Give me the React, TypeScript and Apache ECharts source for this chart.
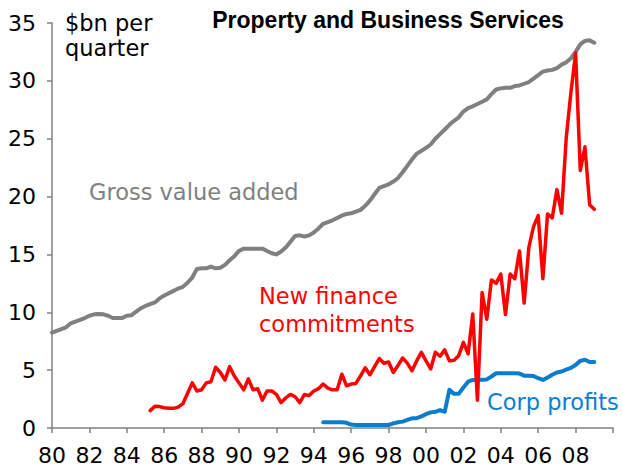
import React, { useEffect, useRef } from "react";
import * as echarts from "echarts";

// Quarterly series, $bn per quarter
const gvaStart = 1980; // Q1 1980
const gva = [
  8.25, 8.4, 8.55, 8.7,
  9.05, 9.2, 9.35, 9.5,
  9.7, 9.82, 9.85, 9.82,
  9.7, 9.5, 9.5, 9.5,
  9.7, 9.75, 10.05, 10.35,
  10.55, 10.7, 10.85, 11.2,
  11.45, 11.65, 11.85, 12.05,
  12.2, 12.55, 13.0, 13.75,
  13.8, 13.8, 13.95, 13.8,
  13.85, 14.1, 14.5, 14.85,
  15.3, 15.5, 15.5, 15.5,
  15.5, 15.5, 15.3, 15.1,
  15.0, 15.25, 15.6, 16.1,
  16.6, 16.65, 16.55, 16.65,
  16.9, 17.25, 17.65, 17.8,
  17.95, 18.15, 18.35, 18.5,
  18.55, 18.7, 18.85, 19.2,
  19.65, 20.2, 20.75, 20.9,
  21.05, 21.3, 21.6, 22.1,
  22.65, 23.2, 23.7, 23.95,
  24.2, 24.5, 25.0, 25.4,
  25.8, 26.2, 26.55, 26.85,
  27.35, 27.65, 27.8, 28.0,
  28.2, 28.4, 28.85, 29.25,
  29.35, 29.4, 29.4, 29.55,
  29.6, 29.75, 29.9, 30.2,
  30.5, 30.8, 30.9, 30.95,
  31.1, 31.4, 31.6, 31.95,
  32.5, 33.15, 33.45, 33.5,
  33.3,
];

const nfcStart = 1985.25; // Q2 1985
const nfc = [
  1.5, 1.87, 1.85,
  1.75, 1.7, 1.7, 1.8,
  2.1, 3.0, 3.9, 3.2,
  3.3, 3.9, 4.0, 5.25,
  4.8, 4.15, 5.3, 4.5,
  3.9, 3.3, 4.25, 3.3,
  3.4, 2.4, 3.2, 3.2,
  2.9, 2.2, 2.6, 2.9,
  2.7, 2.2, 2.9, 2.8,
  3.2, 3.4, 3.8, 3.45,
  3.3, 3.3, 4.65, 3.65,
  3.8, 3.85, 4.5, 5.2,
  4.6, 5.3, 6.0, 5.6,
  5.7, 4.8, 5.4, 6.05,
  5.6, 4.95, 5.8, 6.55,
  5.8, 5.1, 6.55, 6.2,
  6.75, 5.8, 5.85, 6.25,
  7.4, 6.4, 9.85, 2.4,
  11.7, 9.4, 12.8, 12.5,
  13.3, 9.8, 13.3, 12.9,
  15.3, 10.8, 15.6, 17.4,
  18.35, 12.9, 18.5, 18.15,
  20.6, 18.55, 25.1, 29.0,
  32.4, 22.25, 24.3, 19.3,
  18.9,
];

const cpStart = 1994.5; // Q3 1994
const cp = [
  0.5, 0.5,
  0.5, 0.5, 0.5, 0.45,
  0.3, 0.26, 0.26, 0.26,
  0.26, 0.26, 0.26, 0.26,
  0.26, 0.4, 0.5, 0.55,
  0.7, 0.84, 0.85, 1.0,
  1.2, 1.35, 1.4, 1.55,
  1.4, 3.3, 2.95, 2.95,
  3.5, 4.0, 4.15, 4.18,
  4.18, 4.2, 4.45, 4.73,
  4.73, 4.73, 4.73, 4.73,
  4.7, 4.52, 4.52, 4.5,
  4.3, 4.15, 4.35, 4.6,
  4.8, 4.88, 5.05, 5.2,
  5.45, 5.8, 5.9, 5.7,
  5.7,
];

const xMin = 1980;
const xMax = 2010;
const xStep = 2;
const yMin = 0;
const yMax = 35;
const yStep = 5;

const titleText = "Property and Business Services";
const unitLines = ["$bn per", "quarter"];
const gvaLabel = "Gross value added";
const nfcLines = ["New finance", "commitments"];
const cpLabel = "Corp profits";

const toPairs = (start: number, vals: number[]) =>
  vals.map((v, i) => [start + i * 0.25, v]);

const FONT = '"DejaVu Sans", Verdana, sans-serif';

export default function App() {
  const ref = useRef<HTMLDivElement>(null);

  useEffect(() => {
    document.body.style.margin = "0";
    if (!ref.current) return;
    const chart = echarts.init(ref.current, undefined, { renderer: "svg" });
    const labelText = (
      text: string,
      x: number,
      y: number,
      fill: string,
      size = 22.5,
      weight: string = "normal",
      family = FONT,
      align = "left"
    ) => ({
      type: "text",
      x,
      y,
      silent: true,
      style: {
        text,
        fill,
        fontSize: size,
        fontFamily: family,
        fontWeight: weight,
        textAlign: align,
        align,
        textVerticalAlign: "middle",
        verticalAlign: "middle",
      },
    });

    chart.setOption({
      animation: false,
      backgroundColor: "#ffffff",
      grid: { left: 52, right: 10, top: 23, bottom: 44, containLabel: false },
      xAxis: {
        type: "value",
        min: xMin,
        max: xMax,
        interval: xStep,
        axisLine: { show: true, lineStyle: { color: "#808080", width: 1.5 } },
        axisTick: { show: true, inside: false, length: 5, lineStyle: { color: "#808080", width: 1.5 } },
        splitLine: { show: false },
        axisLabel: {
          margin: 16,
          color: "#000",
          fontSize: 22,
          fontFamily: FONT,
          formatter: (v: number) => (v >= xMax ? "" : String(v % 100).padStart(2, "0")),
        },
      },
      yAxis: {
        type: "value",
        min: yMin,
        max: yMax,
        interval: yStep,
        axisLine: { show: true, lineStyle: { color: "#808080", width: 1.5 } },
        axisTick: { show: true, inside: false, length: 5, lineStyle: { color: "#808080", width: 1.5 } },
        splitLine: { show: false },
        axisLabel: {
          margin: 16,
          color: "#000",
          fontSize: 22,
          fontFamily: FONT,
        },
      },
      series: [
        {
          type: "line",
          name: gvaLabel,
          data: toPairs(gvaStart, gva),
          showSymbol: false,
          lineStyle: { color: "#808080", width: 4, cap: "round", join: "round" },
          itemStyle: { color: "#808080" },
          z: 2,
        },
        {
          type: "line",
          name: cpLabel,
          data: toPairs(cpStart, cp),
          showSymbol: false,
          lineStyle: { color: "#0a7dcf", width: 4, cap: "round", join: "round" },
          itemStyle: { color: "#0a7dcf" },
          z: 3,
        },
        {
          type: "line",
          name: nfcLines.join(" "),
          data: toPairs(nfcStart, nfc),
          showSymbol: false,
          lineStyle: { color: "#ff0000", width: 3.5, cap: "round", join: "round" },
          itemStyle: { color: "#ff0000" },
          z: 4,
        },
      ],
      graphic: [
        labelText(titleText, 388, 19.5, "#000", 23, "bold", '"Liberation Sans", Arial, sans-serif', "center"),
        labelText(unitLines[0], 65, 23, "#000"),
        labelText(unitLines[1], 65, 48, "#000"),
        labelText(gvaLabel, 89, 192, "#808080"),
        labelText(nfcLines[0], 259, 296, "#ff0000"),
        labelText(nfcLines[1], 259, 324, "#ff0000"),
        labelText(cpLabel, 487, 401.5, "#0a7dcf"),
      ],
    });
    return () => chart.dispose();
  }, []);

  return (
    <div
      ref={ref}
      style={{ position: "absolute", left: 0, top: 0, width: 623, height: 472 }}
    />
  );
}
